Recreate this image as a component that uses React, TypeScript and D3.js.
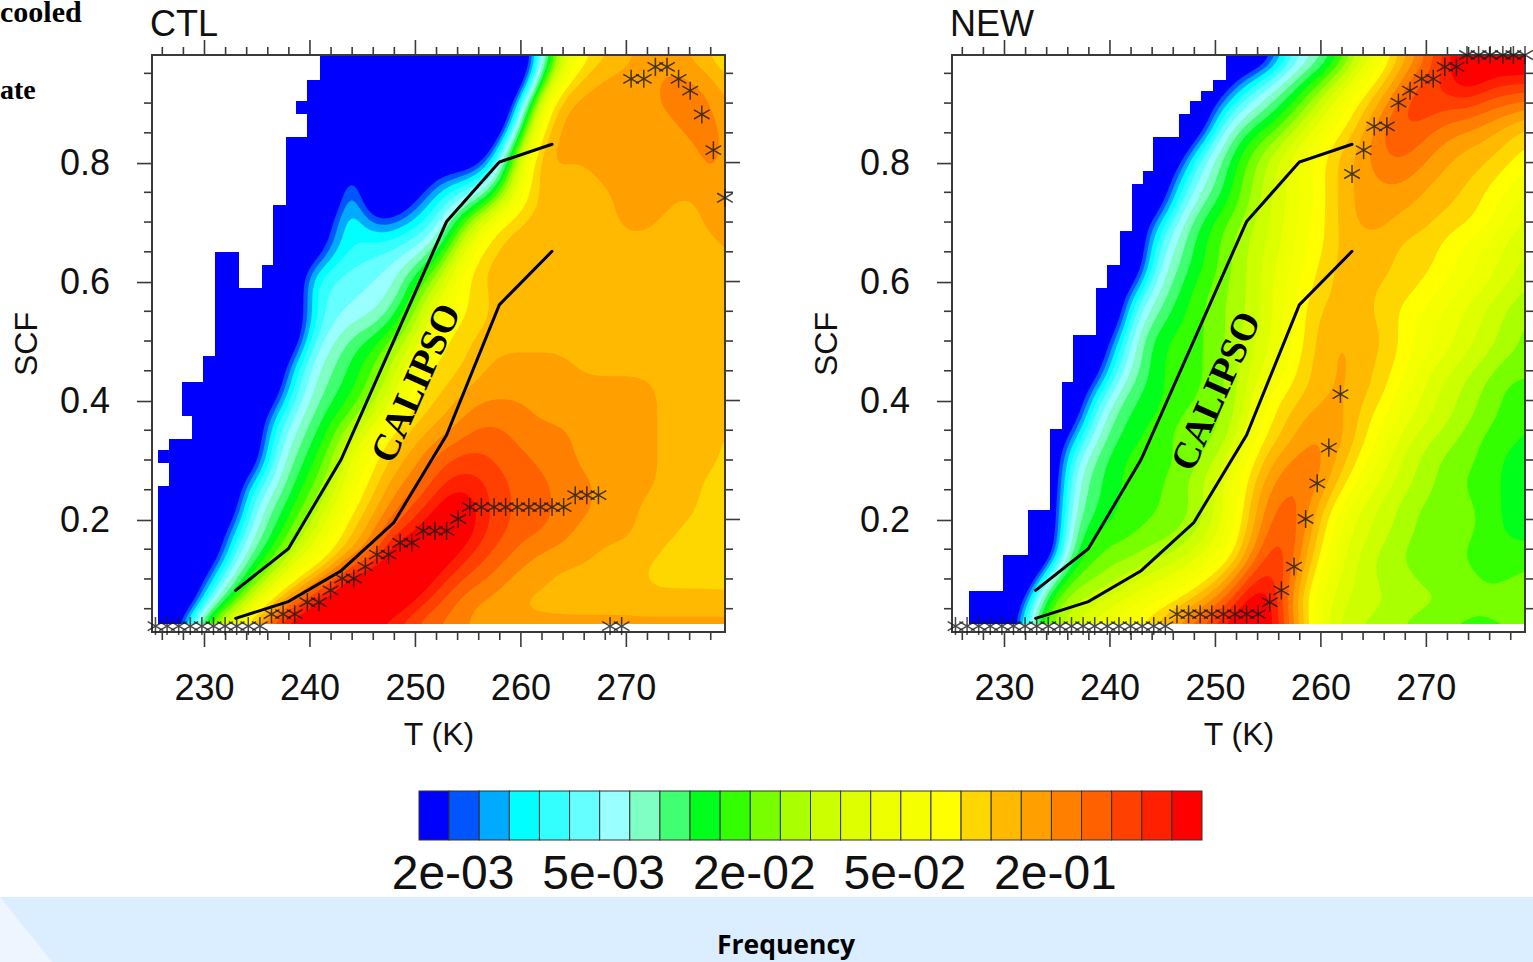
import React, { useEffect, useRef } from 'react';
import * as d3 from 'd3';

// colour levels of the label bar, bottom to top
const levelColors = [
  '#0000ff', '#0055ff', '#00aaff', '#00ffff', '#33ffff', '#66ffff', '#99ffff', '#7fffc4', '#40ff70',
  '#00ff1a', '#33ff00', '#77ff00', '#aaff00', '#ccff00', '#ddff00', '#eeff00', '#f6ff00', '#ffff00',
  '#ffd700', '#ffb900', '#ff9f00', '#ff7f00', '#ff6000', '#ff4000', '#ff2000', '#ff0000',
];
const barLabels = ['2e-03', '5e-03', '2e-02', '5e-02', '2e-01'];
const barLabelLevels = [1, 6, 11, 16, 21];

// grid axes of the level tables
const gridT = [226, 228, 230, 232, 234, 236, 238, 240, 242, 244, 246, 248, 250, 252, 254, 256, 258, 260, 262, 264, 266, 268, 270, 272, 274, 276, 278, 280];
const gridScf = [0.98, 0.94, 0.9, 0.86, 0.82, 0.78, 0.74, 0.7, 0.66, 0.62, 0.58, 0.54, 0.5, 0.46, 0.42, 0.38, 0.34, 0.3, 0.26, 0.22, 0.18, 0.14, 0.1, 0.06, 0.02];

const ctlLevels = [
  [0,0,0,0,0,0,0,0,0,0,0,0,0,0,0,0,0,0,5,13,17,18,19,20,20,19,18,17],
  [0,0,0,0,0,0,0,0,0,0,0,0,0,0,0,0,0,0,9,17,19,20,20,20,21,21,20,18],
  [0,0,0,0,0,0,0,0,0,0,0,0,0,0,0,0,0,3,16,20,20,20,20,20,21,21,21,19],
  [0,0,0,0,0,0,0,0,0,0,0,0,0,0,0,0,0,8,18,20,20,20,20,20,20,21,21,20],
  [0,0,0,0,0,0,0,0,0,0,0,0,0,0,0,0,4,13,20,20,20,20,20,20,20,20,21,20],
  [0,0,0,0,0,0,0,0,0,5,0,0,0,1,1,3,6,16,20,19,19,20,20,20,20,20,21,20],
  [0,0,0,0,0,0,0,0,0,6,0,0,1,3,5,6,11,17,19,19,19,19,20,20,20,19,20,20],
  [0,0,0,0,0,0,0,0,1,5,1,2,3,4,9,14,18,19,19,19,19,19,20,20,19,19,20,20],
  [0,0,0,0,0,0,0,0,2,3,4,4,5,7,12,17,19,19,19,19,19,19,19,19,19,19,19,20],
  [0,0,0,0,0,0,0,3,4,5,5,6,8,10,16,19,19,19,19,19,19,19,19,19,19,19,19,19],
  [0,0,0,0,0,0,0,4,5,5,6,6,10,14,17,18,19,19,19,19,19,19,19,19,19,19,19,19],
  [0,0,0,0,0,0,0,3,5,6,6,8,12,16,17,18,19,19,19,19,19,19,19,19,19,19,19,19],
  [0,0,0,0,0,0,0,5,6,8,9,11,14,17,18,19,19,19,19,19,19,19,19,19,19,19,19,19],
  [0,0,0,0,0,0,2,6,7,9,10,13,16,18,18,19,20,20,20,20,19,19,19,19,19,19,19,19],
  [0,0,0,0,0,0,3,6,8,9,11,14,17,18,19,20,20,20,20,20,20,20,20,20,19,19,19,19],
  [0,0,0,0,0,1,5,7,9,10,13,16,18,19,20,21,21,21,20,20,20,20,20,20,19,19,19,19],
  [0,0,0,0,0,3,6,8,10,13,16,18,19,20,21,22,22,21,21,21,20,20,20,20,19,19,19,18],
  [0,0,0,0,0,4,7,9,11,15,17,19,20,22,23,23,22,22,21,21,20,20,20,20,19,19,19,18],
  [0,0,0,0,3,5,8,10,12,16,18,20,21,23,24,24,23,22,22,21,21,20,20,20,19,19,18,18],
  [0,0,0,0,4,7,9,11,14,17,19,21,23,24,25,24,23,22,22,21,21,20,20,19,19,19,18,18],
  [0,0,0,1,5,8,10,13,16,19,20,23,24,25,25,24,23,22,22,21,20,20,20,19,19,18,18,18],
  [0,0,0,2,7,9,12,15,17,19,21,25,25,25,24,23,22,21,20,20,20,19,19,19,18,18,18,17],
  [0,0,1,6,9,12,16,19,21,25,25,25,25,24,23,22,21,20,20,19,19,19,19,18,18,18,18,18],
  [0,0,3,8,12,17,21,24,25,25,25,25,24,23,21,20,20,19,19,19,19,19,19,19,19,19,19,19],
  [0,3,12,16,19,23,25,25,25,25,24,23,22,21,21,20,20,20,20,20,20,20,20,20,20,20,20,20],
];

const newLevels = [
  [0,0,0,0,0,0,0,0,0,0,0,0,0,0,0,1,5,6,9,13,16,19,21,24,25,25,25,25],
  [0,0,0,0,0,0,0,0,0,0,0,0,0,1,4,6,8,10,13,16,18,21,23,24,25,24,24,24],
  [0,0,0,0,0,0,0,0,0,0,0,0,1,4,6,8,10,13,16,18,20,23,24,23,23,22,22,21],
  [0,0,0,0,0,0,0,0,0,0,0,0,4,7,9,10,13,15,17,19,22,23,22,21,21,20,19,18],
  [0,0,0,0,0,0,0,0,0,0,0,4,6,9,11,13,15,17,19,20,22,22,21,20,19,19,18,17],
  [0,0,0,0,0,0,0,0,0,0,1,5,7,10,12,14,16,17,19,20,21,21,20,19,19,18,17,16],
  [0,0,0,0,0,0,0,0,0,0,3,6,8,10,12,14,15,17,19,20,20,20,19,19,18,17,16,15],
  [0,0,0,0,0,0,0,0,0,2,5,8,10,11,13,14,16,17,19,20,20,19,19,18,18,17,15,14],
  [0,0,0,0,0,0,0,0,0,4,6,9,10,12,13,14,16,17,19,19,19,18,18,17,16,15,14,13],
  [0,0,0,0,0,0,0,0,0,5,7,9,10,12,13,15,16,18,19,19,19,18,18,17,16,15,14,13],
  [0,0,0,0,0,0,0,0,3,6,8,10,11,12,13,15,17,18,19,19,18,18,17,16,15,14,13,12],
  [0,0,0,0,0,0,0,0,5,7,9,10,11,12,13,15,17,19,19,19,18,17,16,15,14,13,12,11],
  [0,0,0,0,0,0,0,1,6,9,10,10,11,12,14,15,17,19,20,19,19,17,16,15,14,13,12,11],
  [0,0,0,0,0,0,0,3,6,9,10,10,11,12,14,15,18,19,20,19,18,17,15,14,13,12,11,11],
  [0,0,0,0,0,0,1,5,8,9,10,10,11,12,15,17,18,19,20,19,18,16,14,13,12,11,10,10],
  [0,0,0,0,0,0,4,7,9,9,10,11,11,12,16,18,19,20,20,18,17,15,14,13,12,11,10,10],
  [0,0,0,0,0,1,5,8,9,10,11,11,11,13,17,18,20,21,20,18,16,14,13,12,11,10,10,9],
  [0,0,0,0,0,4,7,9,10,10,10,11,12,15,18,20,21,21,19,17,15,13,12,11,11,10,9,9],
  [0,0,0,0,0,5,8,9,10,10,11,12,14,16,19,21,22,21,18,16,14,13,12,11,10,10,9,9],
  [0,0,0,0,0,6,8,9,10,10,11,11,13,16,20,22,22,19,16,14,13,12,11,11,11,10,9,9],
  [0,0,0,0,0,7,9,10,10,11,11,12,14,17,20,23,22,18,15,14,13,12,11,11,11,10,9,9],
  [0,0,0,0,0,8,10,11,11,12,12,14,15,17,22,24,21,17,15,13,12,11,11,11,10,10,10,10],
  [0,0,0,0,6,11,11,12,13,14,15,16,18,21,24,24,20,16,14,13,12,12,11,11,11,10,10,11],
  [0,0,0,1,11,12,13,14,15,16,17,19,21,23,25,24,18,15,14,13,13,12,12,12,11,11,12,12],
  [0,0,0,5,12,13,15,16,17,19,21,23,24,25,25,24,20,15,13,12,12,11,11,10,10,10,10,10],
];

// stepped left edge of the sampled area: top SCF of each bin, first T of each bin
const ctlBinTop = [0.98, 0.938, 0.9025, 0.88, 0.842, 0.728, 0.649, 0.627, 0.588, 0.474, 0.43, 0.373, 0.334, 0.316, 0.294, 0.255];
const ctlBinT = [241.0, 239.76, 238.72, 239.76, 237.77, 236.54, 236.54, 235.5, 231.04, 229.9, 227.9, 228.86, 226.68, 225.64, 226.68, 225.64];
const ctlExtraBin = { top: 0.649, bottom: 0.588, t0: 231.04, t1: 233.29 };
const newBinTop = [0.98, 0.938, 0.92, 0.9025, 0.88, 0.842, 0.785, 0.763, 0.684, 0.627, 0.588, 0.509, 0.43, 0.351, 0.215, 0.14, 0.079];
const newBinT = [251.04, 249.8, 248.64, 247.63, 246.59, 244.12, 243.15, 242.13, 241.0, 239.73, 238.72, 236.5, 235.5, 234.36, 232.27, 229.88, 226.68];
const binBottom = 0.0235;

// most frequent SCF per temperature bin
const ctlStarT = [225.4, 226.5, 227.6, 228.7, 229.8, 230.9, 232.0, 233.1, 234.2, 235.3, 236.4, 237.5, 238.6, 239.8, 240.9, 242.0, 243.1, 244.2, 245.3, 246.4, 247.5, 248.6, 249.7, 250.8, 251.9, 253.0, 254.1, 255.2, 256.3, 257.5, 258.6, 259.7, 260.8, 261.9, 263.0, 264.1, 265.2, 266.3, 267.4, 268.5, 269.6, 270.5, 271.7, 272.8, 273.9, 275.0, 276.1, 277.2, 278.3, 279.4];
const ctlStarScf = [0.02, 0.02, 0.02, 0.02, 0.02, 0.02, 0.02, 0.02, 0.02, 0.02, 0.04, 0.04, 0.04, 0.06, 0.06, 0.08, 0.1, 0.1, 0.12, 0.14, 0.14, 0.16, 0.16, 0.18, 0.18, 0.18, 0.2, 0.22, 0.22, 0.22, 0.22, 0.22, 0.22, 0.22, 0.22, 0.22, 0.24, 0.24, 0.24, 0.02, 0.02, 0.94, 0.94, 0.96, 0.96, 0.94, 0.92, 0.88, 0.82, 0.74];
const newStarT = [225.4, 226.5, 227.6, 228.7, 229.8, 230.9, 232.0, 233.1, 234.2, 235.3, 236.4, 237.5, 238.6, 239.8, 240.9, 242.0, 243.1, 244.2, 245.3, 246.4, 247.5, 248.6, 249.7, 250.8, 251.9, 253.0, 254.1, 255.2, 256.3, 257.5, 258.6, 259.7, 260.8, 261.9, 263.0, 264.1, 265.1, 266.3, 267.4, 268.5, 269.6, 270.7, 271.8, 272.9, 273.9, 275.0, 276.1, 277.3, 278.3, 279.4];
const newStarScf = [0.02, 0.02, 0.02, 0.02, 0.02, 0.02, 0.02, 0.02, 0.02, 0.02, 0.02, 0.02, 0.02, 0.02, 0.02, 0.02, 0.02, 0.02, 0.02, 0.04, 0.04, 0.04, 0.04, 0.04, 0.04, 0.04, 0.04, 0.06, 0.08, 0.12, 0.2, 0.26, 0.32, 0.41, 0.78, 0.82, 0.86, 0.86, 0.9, 0.92, 0.94, 0.94, 0.96, 0.96, 0.98, 0.98, 0.98, 0.98, 0.98, 0.98];

// CALIPSO envelope, same in both panels
const calipsoT = [233, 238, 243, 248, 253, 258, 263];
const calipsoUpper = [0.08, 0.15, 0.3, 0.5, 0.7, 0.8, 0.83];
const calipsoLower = [0.033, 0.061, 0.113, 0.194, 0.341, 0.56, 0.65];

const majorT = [230, 240, 250, 260, 270];
const minorT = [226, 228, 232, 234, 236, 238, 242, 244, 246, 248, 252, 254, 256, 258, 262, 264, 266, 268, 272, 274, 276, 278];
const majorScf = [0.2, 0.4, 0.6, 0.8];
const minorScf = [0.05, 0.1, 0.15, 0.25, 0.3, 0.35, 0.45, 0.5, 0.55, 0.65, 0.7, 0.75, 0.85, 0.9, 0.95];

const W = 1533;
const H = 962;
const sans = "'Liberation Sans', Arial, sans-serif";
const serif = "'Liberation Serif', 'Times New Roman', serif";
const upsample = 6;

// the end levels are open ended: values run past the colour bar there
const openEnded = (v: number) => (v === 0 ? -5 : v === 25 ? 27 : v);

// refine the level table for drawing only, so that the bands get smooth edges
function smoothField(levels: number[][]) {
  const cols = levels[0].length;
  const rows = levels.length;
  const width = (cols - 1) * upsample + 1;
  const height = (rows - 1) * upsample + 1;
  const data = new Float64Array(width * height);
  const at = (r: number, c: number) => openEnded(levels[r][c]);
  for (let j = 0; j < height; j++) {
    const r = Math.min(Math.floor(j / upsample), rows - 2);
    const fr = j / upsample - r;
    for (let i = 0; i < width; i++) {
      const c = Math.min(Math.floor(i / upsample), cols - 2);
      const fc = i / upsample - c;
      data[j * width + i] = 0.5 +
        (at(r, c) * (1 - fc) + at(r, c + 1) * fc) * (1 - fr) +
        (at(r + 1, c) * (1 - fc) + at(r + 1, c + 1) * fc) * fr;
    }
  }
  d3.blur2({ data, width, height }, 3);
  return { data, width, height };
}

function drawPanel(svg: any, opts: any) {
  const { id, dx, title, levels, binTop, binT, extraBin, starT, starScf, labelX, labelY } = opts;
  const x = d3.scaleLinear().domain([225.07, 279.4]).range([152, 725]);
  const y = d3.scaleLinear().domain([0.01, 0.98]).range([632, 55]);
  const g = svg.append('g').attr('transform', `translate(${dx},0)`);

  const bins = binTop.map((top: number, i: number) => ({
    top,
    bottom: i + 1 < binTop.length ? binTop[i + 1] : binBottom,
    t0: binT[i],
    t1: 279.4,
  }));
  if (extraBin) bins.push(extraBin);

  const clip = g.append('clipPath').attr('id', `clip-${id}`);
  [clip, g.append('g').attr('fill', levelColors[0]).attr('shape-rendering', 'crispEdges')].forEach(sel => {
    sel.selectAll('rect').data(bins).enter().append('rect')
      .attr('x', (d: any) => Math.round(x(d.t0)))
      .attr('y', (d: any) => Math.round(y(d.top)))
      .attr('width', (d: any) => Math.round(x(d.t1)) - Math.round(x(d.t0)))
      .attr('height', (d: any) => Math.round(y(d.bottom)) - Math.round(y(d.top)));
  });

  // filled bands
  const field = smoothField(levels);
  const thresholds = d3.range(1, levelColors.length);
  const contours = d3.contours().size([field.width, field.height]).smooth(true).thresholds(thresholds)(field.data as any);
  const tOf = d3.scaleLinear().domain([0, gridT.length - 1]).range([gridT[0], gridT[gridT.length - 1]]);
  const scfOf = d3.scaleLinear().domain([0, gridScf.length - 1]).range([gridScf[0], gridScf[gridScf.length - 1]]);
  const path = d3.geoPath(d3.geoTransform({
    point(px: number, py: number) {
      (this as any).stream.point(x(tOf((px - 0.5) / upsample)), y(scfOf((py - 0.5) / upsample)));
    },
  }));
  g.append('g').attr('clip-path', `url(#clip-${id})`)
    .selectAll('path').data(contours).enter().append('path')
    .attr('d', (d: any) => path(d))
    .attr('fill', (d: any) => levelColors[d.value]);

  // frame and ticks
  g.append('rect').attr('x', 152).attr('y', 55).attr('width', 573).attr('height', 577)
    .attr('fill', 'none').attr('stroke', '#3a3a3a').attr('stroke-width', 2);

  const styleAxis = (sel: any) => {
    sel.select('.domain').remove();
    sel.selectAll('line').attr('stroke', '#3a3a3a').attr('stroke-width', 1.6);
    sel.selectAll('text').attr('font-family', sans).attr('font-size', 36).attr('fill', '#111');
  };
  const place = (pos: string) => g.append('g').attr('transform', pos);
  place('translate(0,632)').call(d3.axisBottom(x).tickValues(majorT).tickSize(15).tickPadding(27).tickFormat(d3.format('d') as any)).call(styleAxis);
  place('translate(0,632)').call(d3.axisBottom(x).tickValues(minorT).tickSize(8).tickFormat(() => '')).call(styleAxis);
  place('translate(0,55)').call(d3.axisTop(x).tickValues(majorT).tickSize(15).tickFormat(() => '')).call(styleAxis);
  place('translate(0,55)').call(d3.axisTop(x).tickValues(minorT).tickSize(8).tickFormat(() => '')).call(styleAxis);
  place('translate(152,1)').call(d3.axisLeft(y).tickValues(majorScf).tickSize(15).tickPadding(27).tickFormat(d3.format('.1f') as any)).call(styleAxis);
  place('translate(152,0)').call(d3.axisLeft(y).tickValues(minorScf).tickSize(8).tickFormat(() => '')).call(styleAxis);
  place('translate(725,0)').call(d3.axisRight(y).tickValues(majorScf).tickSize(15).tickFormat(() => '')).call(styleAxis);
  place('translate(725,0)').call(d3.axisRight(y).tickValues(minorScf).tickSize(8).tickFormat(() => '')).call(styleAxis);

  // CALIPSO envelope
  const line = d3.line<number>().x((_, i) => x(calipsoT[i])).y(d => y(d));
  [calipsoUpper, calipsoLower].forEach(vals => {
    g.append('path').attr('d', line(vals)).attr('fill', 'none').attr('stroke', '#000').attr('stroke-width', 3).attr('stroke-linecap', 'round');
  });

  // modal SCF markers
  const star = d3.symbol().type(d3.symbolAsterisk).size(230);
  g.append('g').selectAll('path').data(starT).enter().append('path')
    .attr('d', star() as string)
    .attr('transform', (d: any, i: number) => `translate(${x(d)},${y(starScf[i])})`)
    .attr('fill', 'none').attr('stroke', '#1a1a1a').attr('stroke-opacity', 0.8).attr('stroke-width', 1.5);

  g.append('text').attr('x', labelX).attr('y', labelY)
    .attr('transform', `rotate(-66 ${labelX} ${labelY})`)
    .attr('text-anchor', 'middle').attr('font-family', serif).attr('font-weight', 'bold').attr('font-size', 38)
    .text('CALIPSO');

  g.append('text').attr('x', 150).attr('y', 36).attr('font-family', sans).attr('font-size', 36).attr('fill', '#111').text(title);
  g.append('text').attr('x', 439).attr('y', 745).attr('text-anchor', 'middle').attr('font-family', sans).attr('font-size', 32).attr('fill', '#111').text('T (K)');
  g.append('text').attr('transform', 'translate(37,344) rotate(-90)').attr('text-anchor', 'middle').attr('font-family', sans).attr('font-size', 32).attr('fill', '#111').text('SCF');
}

export default function App() {
  const svgRef = useRef<SVGSVGElement>(null);

  useEffect(() => {
    const svg = d3.select(svgRef.current);
    svg.selectAll('*').remove();

    // slide text and band that the figure sits on
    svg.append('rect').attr('x', 0).attr('y', 897).attr('width', W).attr('height', H - 897).attr('fill', '#dbeeff');
    svg.append('path').attr('d', d3.line()([[0, 897], [52, 962], [0, 962]])! + 'Z').attr('fill', '#eff5ff');
    svg.append('text').attr('x', 0).attr('y', 22).attr('font-family', serif).attr('font-weight', 'bold').attr('font-size', 30).text('cooled');
    svg.append('text').attr('x', 0).attr('y', 99).attr('font-family', serif).attr('font-weight', 'bold').attr('font-size', 28).text('ate');
    svg.append('text').attr('x', 786).attr('y', 954).attr('text-anchor', 'middle').attr('font-family', "'Open Sans', sans-serif").attr('font-weight', 'bold').attr('font-size', 26.5).text('Frequency');

    drawPanel(svg, { id: 'ctl', dx: 0, title: 'CTL', levels: ctlLevels, binTop: ctlBinTop, binT: ctlBinT, extraBin: ctlExtraBin, starT: ctlStarT, starScf: ctlStarScf, labelX: 427, labelY: 388 });
    drawPanel(svg, { id: 'new', dx: 800, title: 'NEW', levels: newLevels, binTop: newBinTop, binT: newBinT, extraBin: null, starT: newStarT, starScf: newStarScf, labelX: 427, labelY: 396 });

    // label bar
    const barX = d3.scaleBand<number>().domain(d3.range(levelColors.length)).range([419, 1202]);
    svg.append('g').selectAll('rect').data(levelColors).enter().append('rect')
      .attr('x', (_, i) => barX(i)!)
      .attr('y', 791)
      .attr('width', barX.bandwidth())
      .attr('height', 49)
      .attr('fill', d => d)
      .attr('stroke', '#333')
      .attr('stroke-width', 1);
    svg.append('g').selectAll('text').data(barLabels).enter().append('text')
      .attr('x', (_, i) => barX(barLabelLevels[i])! + 4)
      .attr('y', 889)
      .attr('text-anchor', 'middle')
      .attr('font-family', sans)
      .attr('font-size', 48)
      .attr('fill', '#111')
      .text(d => d);
  }, []);

  return <svg ref={svgRef} width={W} height={H} style={{ position: 'absolute', left: 0, top: 0, background: '#fff' }} />;
}
